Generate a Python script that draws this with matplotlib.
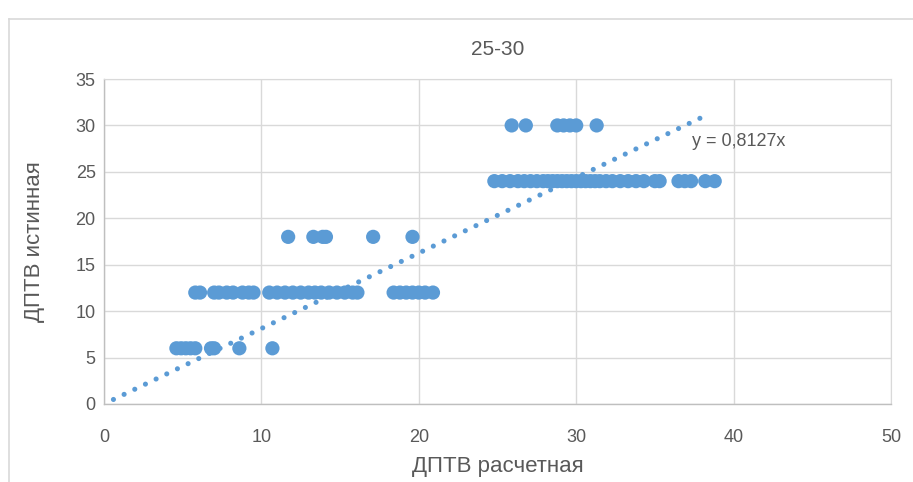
import matplotlib
matplotlib.use("Agg")
import matplotlib.pyplot as plt
from matplotlib.lines import Line2D
import numpy as np

plt.rcParams['font.family'] = ['Liberation Sans', 'DejaVu Sans']

# Data: computed (x) values grouped by true (y) value
x_at_6 = [4.6, 4.9, 5.2, 5.5, 5.8, 6.8, 7.0, 8.6, 10.7]
x_at_12 = [5.8, 6.1, 7.0, 7.3, 7.8, 8.2, 8.8, 9.2, 9.5, 10.5, 11.0, 11.5, 12.0,
           12.5, 13.0, 13.4, 13.8, 14.3, 14.8, 15.3, 15.8, 16.1, 18.4, 18.8,
           19.2, 19.6, 20.0, 20.4, 20.9]
x_at_18 = [11.7, 13.3, 13.9, 14.1, 17.1, 19.6]
x_at_24 = [24.8, 25.3, 25.8, 26.3, 26.7, 27.1, 27.5, 27.9, 28.2, 28.5, 28.8,
           29.1, 29.4, 29.7, 30.0, 30.3, 30.6, 30.9, 31.2, 31.5, 31.9, 32.3,
           32.8, 33.3, 33.8, 34.3, 35.0, 35.3, 36.5, 36.9, 37.3, 38.2, 38.8]
x_at_30 = [25.9, 26.8, 28.8, 29.2, 29.6, 30.0, 31.3]
true_levels = [6, 12, 18, 24, 30]

slope = 0.8127
trend_range = [0.6, 38.2]

title = "25-30"
xlabel = "ДПТВ расчетная"
ylabel = "ДПТВ истинная"
xticks = [0, 10, 20, 30, 40, 50]
yticks = [0, 5, 10, 15, 20, 25, 30, 35]

groups = [x_at_6, x_at_12, x_at_18, x_at_24, x_at_30]
xs = np.concatenate([np.array(g) for g in groups])
ys = np.concatenate([np.full(len(g), lvl) for g, lvl in zip(groups, true_levels)])

blue = '#5B9BD5'
txt = '#595959'
grid = '#D9D9D9'

fig = plt.figure(figsize=(9.13, 4.82), dpi=100)
ax = fig.add_axes([104/913, 1-404/482, (891-104)/913, (404-79)/482])

ax.scatter(xs, ys, s=105, color=blue, edgecolors='none', zorder=3)

tx = np.linspace(trend_range[0], trend_range[1], 400)
ax.plot(tx, slope*tx, color=blue, linestyle=(0, (0.001, 2.3)), linewidth=3.7,
        dash_capstyle='round', solid_capstyle='round', zorder=4)

ax.set_xlim(xticks[0], xticks[-1])
ax.set_ylim(yticks[0], yticks[-1])
ax.set_xticks(xticks)
ax.set_yticks(yticks)
ax.grid(True, color=grid, linewidth=1.0)
ax.set_axisbelow(True)
for s in ['top', 'right']:
    ax.spines[s].set_color(grid)
for s in ['left', 'bottom']:
    ax.spines[s].set_color('#BFBFBF')
    ax.spines[s].set_linewidth(1.0)
ax.tick_params(length=0, labelsize=13, colors=txt)
ax.tick_params(axis='x', pad=18)
ax.tick_params(axis='y', pad=6)

ax.set_title(title, fontsize=15, color=txt, pad=17)
ax.set_xlabel(xlabel, fontsize=16, color=txt, labelpad=7)
ax.set_ylabel(ylabel, fontsize=16, color=txt, labelpad=22)

ax.text((692-104)/787, (404-141)/325, f"y = {str(slope).replace('.', ',')}x",
        transform=ax.transAxes, fontsize=13, color=txt, ha='left', va='center')

# outer chart frame (partially cropped)
fig.add_artist(Line2D([9/913, 1], [1-19/482, 1-19/482], transform=fig.transFigure,
                      color=grid, linewidth=1.2))
fig.add_artist(Line2D([9/913, 9/913], [0, 1-19/482], transform=fig.transFigure,
                      color=grid, linewidth=1.2))

fig.savefig("out.png", dpi=100)
